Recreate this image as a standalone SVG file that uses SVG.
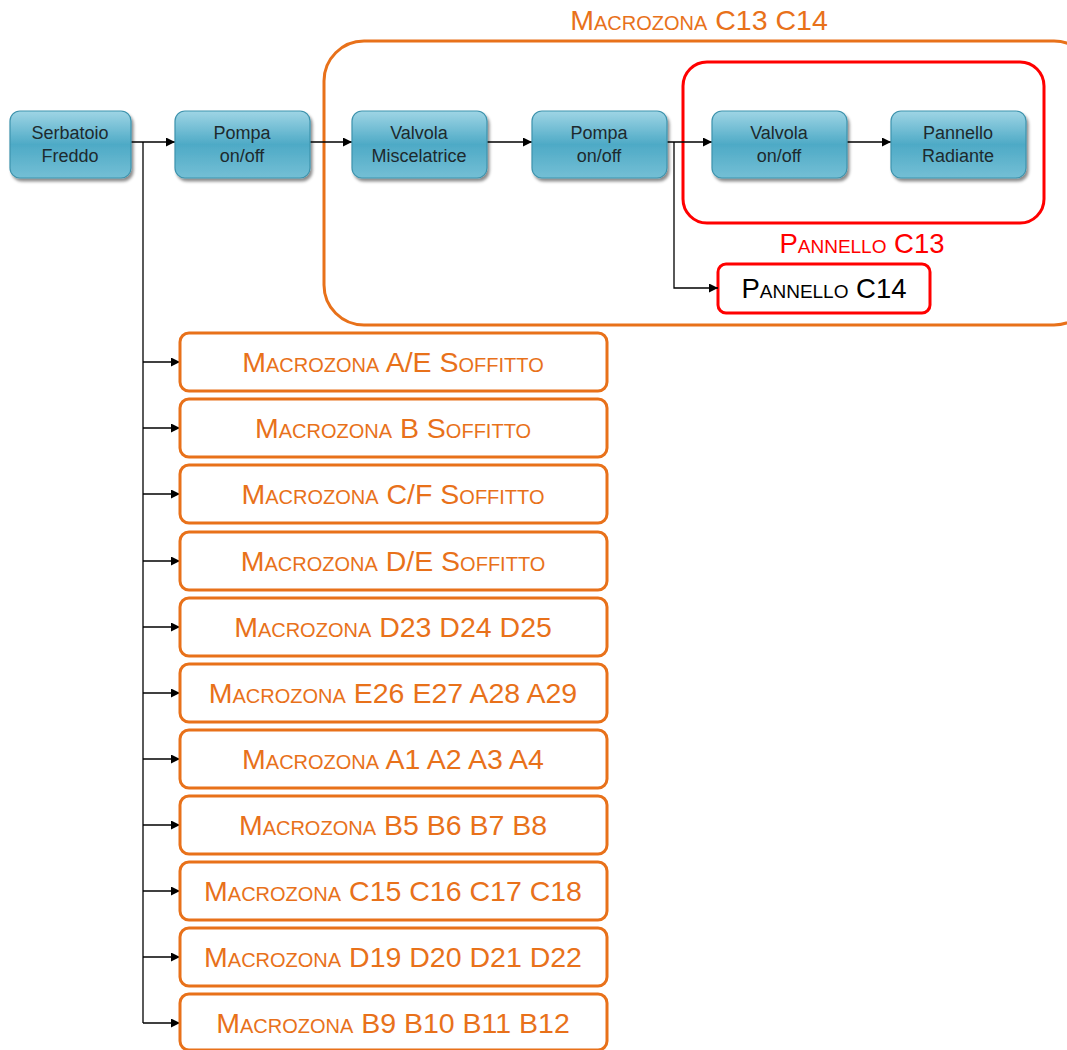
<svg xmlns="http://www.w3.org/2000/svg" width="1067" height="1050" viewBox="0 0 1067 1050">
  <style>
    .blk rect.body { fill: url(#glossy); stroke: #3d93ad; stroke-width: 1.2; filter: url(#shadow); }
    .blk text { font-family: "Liberation Sans", "Noto Sans", sans-serif; font-size: 18px; fill: #1d2a2e; text-anchor: middle; }
    .zone rect { fill: #ffffff; stroke: #e8711a; stroke-width: 3; }
    .sc { font-family: "Liberation Sans", "Noto Sans", sans-serif; font-variant: small-caps; text-anchor: middle; }
    .zone text { font-size: 28.5px; fill: #e8711a; }
    .conn line, .conn polyline { stroke: #000; stroke-width: 1.3; fill: none; }
  </style>
  <defs>
    <linearGradient id="glossy" x1="0" y1="0" x2="0" y2="1">
      <stop offset="0" stop-color="#9fd5e5"/>
      <stop offset="0.5" stop-color="#4eaac6"/>
      <stop offset="1" stop-color="#74bfd5"/>
    </linearGradient>
    <filter id="shadow" x="-10%" y="-10%" width="125%" height="130%">
      <feDropShadow dx="2" dy="3" stdDeviation="1.5" flood-color="#000" flood-opacity="0.45"/>
    </filter>
    <marker id="arr" viewBox="0 0 10 10" refX="10" refY="5" markerWidth="9" markerHeight="9" markerUnits="userSpaceOnUse" orient="auto">
      <path d="M0,0 L10,5 L0,10 z" fill="#000"/>
    </marker>
  </defs>

  <!-- outer group: Macrozona C13 C14 -->
  <g id="macrozona-c13-c14">
    <rect x="324" y="41" width="770" height="284" rx="40" fill="none" stroke="#e8711a" stroke-width="3"/>
    <text class="sc" x="699" y="30" font-size="28.5" fill="#e8711a">Macrozona C13 C14</text>
  </g>

  <!-- inner group: Pannello C13 -->
  <g id="pannello-c13">
    <rect x="683" y="62" width="361" height="161" rx="24" fill="none" stroke="#ff0000" stroke-width="3"/>
    <text class="sc" x="862" y="253" font-size="27.5" fill="#ff0000">Pannello C13</text>
  </g>

  <g id="pannello-c14">
    <rect x="718" y="264" width="212" height="49" rx="8" fill="#ffffff" stroke="#ff0000" stroke-width="3"/>
    <text class="sc" x="824" y="298" font-size="27.5" fill="#000000">Pannello C14</text>
  </g>

  <!-- connectors -->
  <g class="conn">
    <line x1="131" y1="142" x2="175" y2="142" marker-end="url(#arr)"/>
    <line x1="310" y1="142" x2="352" y2="142" marker-end="url(#arr)"/>
    <line x1="487" y1="142" x2="532" y2="142" marker-end="url(#arr)"/>
    <line x1="667" y1="142" x2="712" y2="142" marker-end="url(#arr)"/>
    <line x1="847" y1="142" x2="891" y2="142" marker-end="url(#arr)"/>
    <polyline points="674,142 674,288 718,288" marker-end="url(#arr)"/>
    <line x1="143" y1="142" x2="143" y2="1023"/>
    <line x1="143" y1="362" x2="180" y2="362" marker-end="url(#arr)"/>
    <line x1="143" y1="428" x2="180" y2="428" marker-end="url(#arr)"/>
    <line x1="143" y1="494" x2="180" y2="494" marker-end="url(#arr)"/>
    <line x1="143" y1="561" x2="180" y2="561" marker-end="url(#arr)"/>
    <line x1="143" y1="627" x2="180" y2="627" marker-end="url(#arr)"/>
    <line x1="143" y1="693" x2="180" y2="693" marker-end="url(#arr)"/>
    <line x1="143" y1="759" x2="180" y2="759" marker-end="url(#arr)"/>
    <line x1="143" y1="825" x2="180" y2="825" marker-end="url(#arr)"/>
    <line x1="143" y1="891" x2="180" y2="891" marker-end="url(#arr)"/>
    <line x1="143" y1="957" x2="180" y2="957" marker-end="url(#arr)"/>
    <line x1="143" y1="1023" x2="180" y2="1023" marker-end="url(#arr)"/>
  </g>

  <!-- process blocks -->
  <g id="serbatoio-freddo" class="blk">
    <rect class="body" x="10" y="111" width="121" height="67" rx="10"/>
    <text x="70" y="139">Serbatoio</text>
    <text x="70" y="162">Freddo</text>
  </g>
  <g id="pompa-1" class="blk">
    <rect class="body" x="175" y="111" width="135" height="67" rx="10"/>
    <text x="242" y="139">Pompa</text>
    <text x="242" y="162">on/off</text>
  </g>
  <g id="valvola-miscelatrice" class="blk">
    <rect class="body" x="352" y="111" width="135" height="67" rx="10"/>
    <text x="419" y="139">Valvola</text>
    <text x="419" y="162">Miscelatrice</text>
  </g>
  <g id="pompa-2" class="blk">
    <rect class="body" x="532" y="111" width="135" height="67" rx="10"/>
    <text x="599" y="139">Pompa</text>
    <text x="599" y="162">on/off</text>
  </g>
  <g id="valvola-on-off" class="blk">
    <rect class="body" x="712" y="111" width="135" height="67" rx="10"/>
    <text x="779" y="139">Valvola</text>
    <text x="779" y="162">on/off</text>
  </g>
  <g id="pannello-radiante" class="blk">
    <rect class="body" x="891" y="111" width="135" height="67" rx="10"/>
    <text x="958" y="139">Pannello</text>
    <text x="958" y="162">Radiante</text>
  </g>

  <!-- macrozone list -->
  <g id="mz-ae" class="zone"><rect x="180" y="333" width="427" height="58" rx="9"/><text class="sc" x="393" y="372">Macrozona A/E Soffitto</text></g>
  <g id="mz-b" class="zone"><rect x="180" y="399" width="427" height="58" rx="9"/><text class="sc" x="393" y="438">Macrozona B Soffitto</text></g>
  <g id="mz-cf" class="zone"><rect x="180" y="465" width="427" height="58" rx="9"/><text class="sc" x="393" y="504">Macrozona C/F Soffitto</text></g>
  <g id="mz-de" class="zone"><rect x="180" y="532" width="427" height="58" rx="9"/><text class="sc" x="393" y="571">Macrozona D/E Soffitto</text></g>
  <g id="mz-d23" class="zone"><rect x="180" y="598" width="427" height="58" rx="9"/><text class="sc" x="393" y="637">Macrozona D23 D24 D25</text></g>
  <g id="mz-e26" class="zone"><rect x="180" y="664" width="427" height="58" rx="9"/><text class="sc" x="393" y="703">Macrozona E26 E27 A28 A29</text></g>
  <g id="mz-a1" class="zone"><rect x="180" y="730" width="427" height="58" rx="9"/><text class="sc" x="393" y="769">Macrozona A1 A2 A3 A4</text></g>
  <g id="mz-b5" class="zone"><rect x="180" y="796" width="427" height="58" rx="9"/><text class="sc" x="393" y="835">Macrozona B5 B6 B7 B8</text></g>
  <g id="mz-c15" class="zone"><rect x="180" y="862" width="427" height="58" rx="9"/><text class="sc" x="393" y="901">Macrozona C15 C16 C17 C18</text></g>
  <g id="mz-d19" class="zone"><rect x="180" y="928" width="427" height="58" rx="9"/><text class="sc" x="393" y="967">Macrozona D19 D20 D21 D22</text></g>
  <g id="mz-b9" class="zone"><rect x="180" y="994" width="427" height="56" rx="9"/><text class="sc" x="393" y="1033">Macrozona B9 B10 B11 B12</text></g>
</svg>
